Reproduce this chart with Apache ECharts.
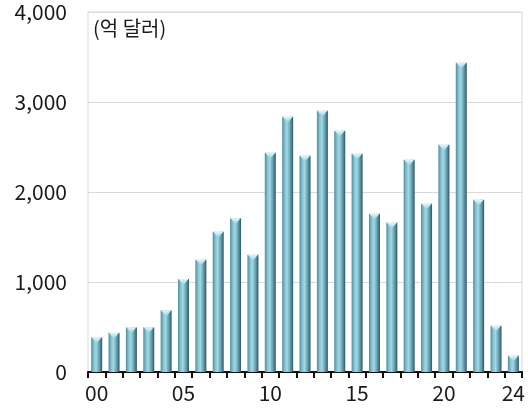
<!DOCTYPE html>
<html>
<head>
<meta charset="utf-8">
<script src="https://cdn.jsdelivr.net/npm/echarts@6/dist/echarts.min.js"></script>
<style>
  html, body { margin: 0; padding: 0; background: #fff; }
  #chart { width: 528px; height: 408px; }
</style>
</head>
<body>
<div id="chart"></div>
<script>
// Annual amounts, 2000–2024 (억 달러)
const years = ['00','01','02','03','04','05','06','07','08','09','10','11','12',
               '13','14','15','16','17','18','19','20','21','22','23','24'];
const amounts = [385, 435, 496, 496, 684, 1033, 1248, 1559, 1708, 1303,
                 2437, 2837, 2403, 2903, 2681, 2426, 1759, 1659, 2359, 1870,
                 2526, 3437, 1914, 514, 181];
const shownYearIdx = [0, 5, 10, 15, 20, 24];
const unitLabel = '(억 달러)';

const chart = echarts.init(document.getElementById('chart'), null, { renderer: 'canvas' });

const font = '"Noto Sans CJK KR", "Noto Sans", sans-serif';

// cylinder-like shading across each bar
const barFill = new echarts.graphic.LinearGradient(0, 0, 1, 0, [
  { offset: 0.0, color: '#4f8d9c' },
  { offset: 0.25, color: '#86c3d2' },
  { offset: 0.45, color: '#a3d8e4' },
  { offset: 0.75, color: '#5f9dad' },
  { offset: 1.0, color: '#2f5662' }
]);
const capFill = new echarts.graphic.LinearGradient(0, 0, 0, 1, [
  { offset: 0, color: '#e4f6fa' },
  { offset: 1, color: '#8fcfdd' }
]);

chart.setOption({
  backgroundColor: '#ffffff',
  animation: false,
  title: {
    text: unitLabel,
    left: 88,
    top: 13,
    textStyle: { fontFamily: font, fontSize: 20, fontWeight: 'normal', color: '#1a1a1a' }
  },
  grid: { left: 88, right: 5, top: 12, bottom: 36, show: true, borderColor: '#d9d9d9', borderWidth: 1 },
  xAxis: {
    type: 'category',
    data: years,
    boundaryGap: true,
    axisLine: { show: true, lineStyle: { color: '#111', width: 2 } },
    axisTick: { show: true, length: 6, lineStyle: { color: '#111', width: 2 }, interval: 0 },
    axisLabel: {
      interval: (i) => shownYearIdx.includes(i),
      margin: 11,
      fontFamily: font,
      fontSize: 21,
      color: '#1a1a1a'
    }
  },
  yAxis: {
    type: 'value',
    min: 0,
    max: 4000,
    interval: 1000,
    axisLine: { show: false },
    axisTick: { show: false },
    splitLine: { lineStyle: { color: '#d9d9d9', width: 1 } },
    axisLabel: {
      margin: 21,
      fontFamily: font,
      fontSize: 21,
      color: '#1a1a1a',
      formatter: (v) => v.toLocaleString('en-US')
    }
  },
  series: [
    {
      type: 'bar',
      data: amounts,
      barWidth: 11,
      barGap: '-100%',
      itemStyle: { color: barFill }
    },
    {
      // light wedge just inside each bar top
      type: 'pictorialBar',
      data: amounts,
      barGap: '-100%',
      symbol: 'path://M0,0 L10,0 L5,6 Z',
      symbolSize: [10, 6],
      symbolPosition: 'end',
      symbolOffset: [0, 0],
      itemStyle: { color: capFill },
      z: 3
    }
  ]
});
</script>
</body>
</html>
